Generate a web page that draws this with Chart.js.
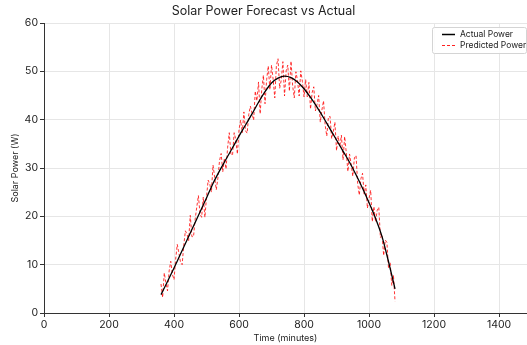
<!DOCTYPE html>
<html>
<head>
<meta charset="utf-8">
<script src="https://cdn.jsdelivr.net/npm/chart.js@4.4.1/dist/chart.umd.min.js"></script>
<style>
html,body{margin:0;padding:0;background:#fff;}
#wrap{width:527px;height:345px;}
</style>
</head>
<body>
<div id="wrap"><canvas id="c" width="527" height="345"></canvas></div>
<script>
const actualTime = [360,380,400,420,440,460,480,500,520,540,560,580,600,620,640,660,680,700,720,740,760,780,800,820,840,860,880,900,920,940,960,980,1000,1020,1040,1060,1080];
const actualPower = [3.8,6.5,9.3,12.2,15.1,18.0,20.9,23.8,26.8,29.4,31.8,34.2,36.6,38.9,41.2,43.6,45.8,47.6,48.6,49.0,48.7,47.8,46.4,44.6,42.6,40.4,38.1,35.8,33.5,31.2,28.6,25.8,22.8,19.6,15.8,10.6,5.0];

const predTime = [360,365,370,375,380,385,390,395,400,405,410,415,420,425,430,435,440,445,450,455,460,465,470,475,480,485,490,495,500,505,510,515,520,525,530,535,540,545,550,555,560,565,570,575,580,585,590,595,600,605,610,615,620,625,630,635,640,645,650,655,660,665,670,675,680,685,690,695,700,705,710,715,720,725,730,735,740,745,750,755,760,765,770,775,780,785,790,795,800,805,810,815,820,825,830,835,840,845,850,855,860,865,870,875,880,885,890,895,900,905,910,915,920,925,930,935,940,945,950,955,960,965,970,975,980,985,990,995,1000,1005,1010,1015,1020,1025,1030,1035,1040,1045,1050,1055,1060,1065,1070,1075,1080];
const predPower = [6.0,3.2,8.3,6.2,4.6,8.7,10.7,8.0,6.9,11.1,14.2,12.4,10.5,10.0,14.0,17.0,16.3,15.0,20.2,15.8,15.8,19.4,21.9,24.3,20.5,19.8,24.0,19.8,24.0,27.5,26.7,25.0,30.6,28.1,25.5,27.9,31.5,33.0,29.2,32.0,29.8,34.3,37.3,32.9,32.6,37.3,35.9,32.9,37.9,39.9,37.3,41.6,37.7,37.2,41.1,42.8,41.3,39.9,45.9,43.9,47.8,41.2,46.3,49.2,43.3,48.3,51.1,46.2,51.3,48.3,44.5,51.2,52.6,46.5,48.2,52.0,44.9,50.1,51.3,45.9,52.1,47.0,44.5,49.9,48.1,44.9,50.1,47.9,44.7,48.3,44.7,47.7,42.2,45.6,46.8,41.8,43.2,45.0,39.5,42.0,43.9,38.9,36.6,40.5,40.7,36.1,37.5,39.5,33.6,36.6,34.4,36.8,31.7,36.5,33.2,29.3,32.9,30.8,28.3,32.1,32.6,26.8,24.4,27.8,28.9,24.6,26.5,21.7,23.7,25.4,18.9,22.0,18.9,21.2,21.9,15.6,16.2,11.9,15.1,14.6,9.2,10.4,5.7,7.9,2.4];

const xTicks = [0,200,400,600,800,1000,1200,1400];
const yTicks = [0,10,20,30,40,50,60];

const FONT = 'Inter, "Open Sans", sans-serif';
const toXY = (xs, ys) => xs.map((x, i) => ({x: x, y: ys[i]}));

const legendPlugin = {
  id: 'boxLegend',
  afterDraw(chart) {
    const ctx = chart.ctx;
    ctx.save();
    const x0 = 432, y0 = 27, w = 94, h = 26;
    ctx.fillStyle = 'rgba(255,255,255,0.85)';
    ctx.strokeStyle = '#d4d4d4';
    ctx.lineWidth = 1;
    ctx.beginPath();
    ctx.roundRect(x0 + 0.5, y0 + 0.5, w, h, 2);
    ctx.fill();
    ctx.stroke();
    ctx.lineWidth = 1.5;
    ctx.strokeStyle = '#000';
    ctx.beginPath();
    ctx.moveTo(442, 34.5); ctx.lineTo(455, 34.5); ctx.stroke();
    ctx.strokeStyle = '#ff2020';
    ctx.lineWidth = 1;
    ctx.setLineDash([3, 2]);
    ctx.beginPath();
    ctx.moveTo(442, 45.5); ctx.lineTo(455, 45.5); ctx.stroke();
    ctx.setLineDash([]);
    ctx.fillStyle = '#222';
    ctx.font = '8.5px ' + FONT;
    ctx.textBaseline = 'middle';
    ctx.textAlign = 'left';
    ctx.fillText('Actual Power', 460, 34.5);
    ctx.fillText('Predicted Power', 460, 45.5);
    ctx.restore();
  }
};

new Chart(document.getElementById('c'), {
  type: 'line',
  data: {
    datasets: [
      {
        label: 'Predicted Power',
        data: toXY(predTime, predPower),
        borderColor: 'rgba(255,0,0,0.8)',
        borderWidth: 1,
        borderDash: [3, 2],
        pointRadius: 0,
        tension: 0,
        fill: false,
        order: 2
      },
      {
        label: 'Actual Power',
        data: toXY(actualTime, actualPower),
        borderColor: '#000',
        borderWidth: 1.3,
        pointRadius: 0,
        cubicInterpolationMode: 'monotone',
        fill: false,
        order: 1
      }
    ]
  },
  options: {
    responsive: false,
    animation: false,
    devicePixelRatio: 1,
    layout: { padding: { left: 0, right: 0, top: 0, bottom: 0 } },
    plugins: {
      legend: { display: false },
      tooltip: { enabled: false },
      title: {
        display: true,
        text: 'Solar Power Forecast vs Actual',
        color: '#222',
        font: { family: FONT, size: 12.5, weight: 'normal' },
        padding: { top: 4, bottom: 4 }
      }
    },
    scales: {
      x: {
        type: 'linear',
        min: 0,
        max: 1486,
        afterBuildTicks(scale) { scale.ticks = xTicks.map(v => ({value: v})); },
        afterFit(scale) { scale.height = 32; },
        ticks: {
          color: '#222',
          font: { family: FONT, size: 10.5 },
          padding: 2,
          maxRotation: 0,
          callback: v => String(v)
        },
        grid: { color: '#e6e6e6', tickColor: '#333', tickLength: 4, lineWidth: 1 },
        border: { color: '#333', width: 1 },
        title: {
          display: true,
          text: 'Time (minutes)',
          color: '#222',
          font: { family: FONT, size: 9 },
          padding: { top: 0, bottom: 1 }
        }
      },
      y: {
        type: 'linear',
        min: 0,
        max: 60,
        afterBuildTicks(scale) { scale.ticks = yTicks.map(v => ({value: v})); },
        afterFit(scale) { scale.width = 44; },
        ticks: {
          color: '#222',
          font: { family: FONT, size: 10.5 },
          padding: 2,
          callback: v => String(v)
        },
        grid: { color: '#e6e6e6', tickColor: '#333', tickLength: 4, lineWidth: 1 },
        border: { color: '#333', width: 1 },
        title: {
          display: true,
          text: 'Solar Power (W)',
          color: '#222',
          font: { family: FONT, size: 9 },
          padding: { top: 10, bottom: 0 }
        }
      }
    }
  },
  plugins: [legendPlugin]
});
</script>
</body>
</html>
